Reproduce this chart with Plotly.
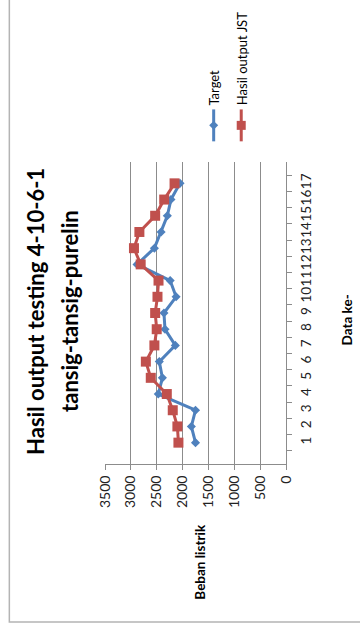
import plotly.graph_objects as go

# Data: electricity load per test sample
categories = [str(i) for i in range(1, 18)]
target = [1750, 1830, 1750, 2470, 2390, 2450, 2140, 2340, 2360,
          2125, 2240, 2880, 2545, 2415, 2295, 2225, 2050]
jst_output = [2080, 2100, 2190, 2305, 2615, 2710, 2545, 2500, 2530,
              2485, 2465, 2810, 2940, 2835, 2530, 2355, 2155]
value_ticks = [0, 500, 1000, 1500, 2000, 2500, 3000, 3500]

W, H = 360, 628
L, R, T, B = 105, 74.3, 161.7, 163.7
PW, PH = W - L - R, H - T - B

BLUE = "#4F81BD"
RED = "#C0504D"
GRID = "#8c8c8c"
FONT = "Lato"


def px(x):
    return (x - L) / PW


def py(y):
    return (H - B - y) / PH


fig = go.Figure()
fig.add_trace(go.Scatter(
    x=target, y=categories, mode="lines+markers", name="Target",
    line=dict(color=BLUE, width=3),
    marker=dict(symbol="diamond", size=7, color=BLUE),
))
fig.add_trace(go.Scatter(
    x=jst_output, y=categories, mode="lines+markers", name="Hasil output JST",
    line=dict(color=RED, width=3),
    marker=dict(symbol="square", size=10, color=RED),
))

fig.update_layout(
    width=W, height=H,
    margin=dict(l=L, r=R, t=T, b=B),
    paper_bgcolor="white", plot_bgcolor="white",
    showlegend=False,
    font=dict(family=FONT, color="#222"),
    xaxis=dict(
        range=[3500, 0], tickvals=value_ticks, tickangle=-90,
        showgrid=True, gridcolor=GRID, gridwidth=1,
        zeroline=False, showline=True, linecolor=GRID, linewidth=1,
        ticks="outside", ticklen=5, tickcolor=GRID,
        tickfont=dict(size=14, family=FONT, color="#222"),
    ),
    yaxis=dict(
        type="category", side="right", tickangle=-90,
        showgrid=False, zeroline=False, showline=True,
        linecolor=GRID, linewidth=1,
        ticks="outside", ticklen=5, tickcolor=GRID, tickson="boundaries",
        ticklabelstandoff=8,
        tickfont=dict(size=13.5, family=FONT, color="#222"),
    ),
)

annotations = [
    # chart title, two lines
    dict(text="<b>Hasil output testing 4-10-6-1</b>",
         x=px(35), y=py(311), font=dict(size=22, color="black")),
    dict(text="<b>tansig-tansig-purelin</b>",
         x=px(69), y=py(311), font=dict(size=22, color="black")),
    # value axis title
    dict(text="<b>Beban listrik</b>", x=px(199), y=py(562), font=dict(size=13.5, color="black")),
    # category axis title
    dict(text="<b>Data ke-</b>", x=px(347), y=py(320), font=dict(size=13.5, color="black")),
    # legend labels
    dict(text="Target", x=px(214), y=py(107), yanchor="bottom", font=dict(size=13, color="black")),
    dict(text="Hasil output JST", x=px(242), y=py(107), yanchor="bottom", font=dict(size=13, color="black")),
]
for a in annotations:
    a.setdefault("yanchor", "middle")
    fig.add_annotation(xref="paper", yref="paper", showarrow=False, textangle=-90,
                       xanchor="center", **a)

shapes = [
    # outer chart border
    dict(type="rect", x0=px(9.5), x1=px(380), y0=py(622.5), y1=py(-20),
         line=dict(color="#b4b4b4", width=1.5)),
    # legend: Target sample
    dict(type="line", x0=px(213.5), x1=px(213.5), y0=py(109), y1=py(141),
         line=dict(color=BLUE, width=3)),
    dict(type="path", path="M {0},{1} L {2},{3} L {0},{4} L {5},{3} Z".format(
        px(213.5), py(120.5), px(218), py(125), py(129.5), px(209)),
         fillcolor=BLUE, line=dict(color=BLUE, width=0)),
    # legend: JST output sample
    dict(type="line", x0=px(241), x1=px(241), y0=py(109), y1=py(141),
         line=dict(color=RED, width=3)),
    dict(type="rect", x0=px(236.5), x1=px(245.5), y0=py(129.5), y1=py(120.5),
         fillcolor=RED, line=dict(color=RED, width=0)),
]
for s in shapes:
    fig.add_shape(xref="paper", yref="paper", layer="above", **s)

fig.write_html("out.html")
